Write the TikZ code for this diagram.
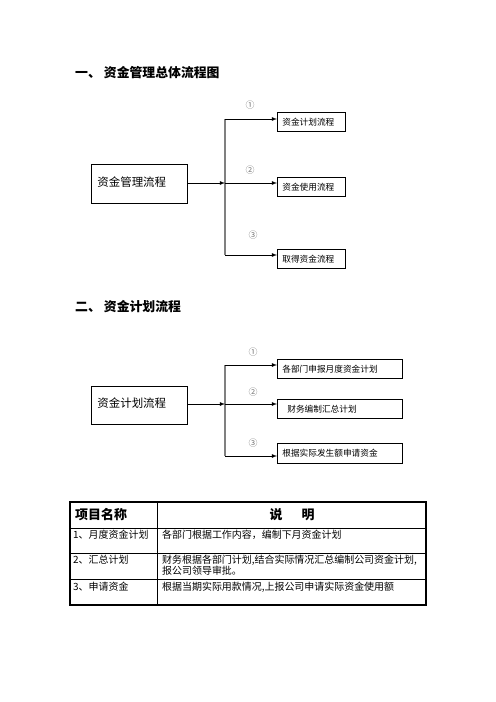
\documentclass[tikz,border=0pt]{standalone}
\usepackage{fontspec}
\newfontfamily\cjk{Noto Sans CJK SC}
\usetikzlibrary{arrows,calc}
\definecolor{bargray}{rgb}{0.5,0.5,0.5}
\tikzset{
  bigbox/.style={draw,line width=0.8pt,anchor=north west,minimum height=#1,
    text width=84bp,inner xsep=6bp,align=left,font=\cjk\fontsize{11.5}{13}\selectfont},
  smallbox/.style={draw,line width=0.8pt,anchor=north west,minimum height=19bp,
    text width=#1,inner xsep=5bp,align=left,font=\cjk\fontsize{8.7}{10}\selectfont},
  numlabel/.style={text=black!55,inner sep=0pt,font=\cjk\fontsize{9}{10}\selectfont},
  heading/.style={anchor=west,inner sep=0pt,font=\cjk\bfseries\fontsize{12.9}{14}\selectfont},
  flow/.style={-latex,line width=0.8pt},
  bar/.style={bargray,line width=1.8pt},
  cell/.style={anchor=west,inner sep=0pt,font=\cjk\fontsize{10}{11}\selectfont},
  headcell/.style={inner sep=0pt,font=\cjk\bfseries\fontsize{13}{14}\selectfont}
}
\begin{document}
\begin{tikzpicture}[x=1bp,y=-1bp]
  \useasboundingbox (0,0) rectangle (496,702);
  % Part one
  \node[heading] (title1) at (75,73) {一、\hspace{3bp}资金管理总体流程图};
  \node[bigbox=39bp] (mgmt) at (91,164) {资金管理流程\vspace{4bp}};
  \node[smallbox=58bp] (plan) at (277,112) {资金计划流程};
  \node[smallbox=58bp] (use) at (277,177) {资金使用流程};
  \node[smallbox=58bp] (get) at (277,249) {取得资金流程};
  \coordinate (a1) at (225,119);
  \coordinate (a2) at (225,183);
  \coordinate (a3) at (225,255);
  \draw[bar] (a1) -- (a3);
  \draw[flow] (mgmt.east |- a2) -- (a2);
  \draw[flow] (a1) -- (a1 -| plan.west);
  \draw[flow] (a2) -- (a2 -| use.west);
  \draw[flow] (a3) -- (a3 -| get.west);
  \node[numlabel] (n1) at (250,105) {①};
  \node[numlabel] (n2) at (250,170) {②};
  \node[numlabel] (n3) at (253,235) {③};
  % Part two
  \node[heading] (title2) at (75,307) {二、\hspace{3bp}资金计划流程};
  \node[bigbox=38bp] (fund) at (91,386) {资金计划流程\vspace{4bp}};
  \node[smallbox=115bp] (report) at (277,359) {各部门申报月度资金计划};
  \node[smallbox=115bp] (sum) at (277,399) {\hspace{5bp}财务编制汇总计划};
  \node[smallbox=115bp,minimum height=20bp] (apply) at (277,443) {根据实际发生额申请资金};
  \coordinate (b1) at (225,365);
  \coordinate (b2) at (225,404);
  \coordinate (b3) at (225,456);
  \draw[bar] (b1) -- (b3);
  \draw[flow] (fund.east |- b2) -- (b2);
  \draw[flow] (b1) -- (b1 -| report.west);
  \draw[flow] (b2) -- (b2 -| sum.west);
  \draw[flow] (b3) -- (b3 -| apply.west);
  \node[numlabel] (m1) at (253,352) {①};
  \node[numlabel] (m2) at (253,392) {②};
  \node[numlabel] (m3) at (253,443) {③};
  % Table
  \draw[line width=1.2pt] (70,502) rectangle (426,605);
  \draw[line width=0.6pt] (157,502) -- (157,605);
  \draw[line width=0.6pt] (70,528) -- (426,528);
  \draw[line width=0.6pt] (70,553) -- (426,553);
  \draw[line width=0.6pt] (70,579) -- (426,579);
  \node[headcell,anchor=west] (hname) at (75,515) {项目名称};
  \node[headcell] (hdesc) at (292,515) {说\hspace{19bp}明};
  \node[cell] (r1a) at (73,535) {1、月度资金计划};
  \node[cell] (r1b) at (162,535) {各部门根据工作内容，编制下月资金计划};
  \node[cell] (r2a) at (73,560) {2、汇总计划};
  \node[cell,anchor=north west,align=left] (r2b) at (162,554.5) {财务根据各部门计划,结合实际情况汇总编制公司资金计划,\\报公司领导审批。};
  \node[cell] (r3a) at (73,587) {3、申请资金};
  \node[cell] (r3b) at (162,587) {根据当期实际用款情况,上报公司申请实际资金使用额};
\end{tikzpicture}
\end{document}
